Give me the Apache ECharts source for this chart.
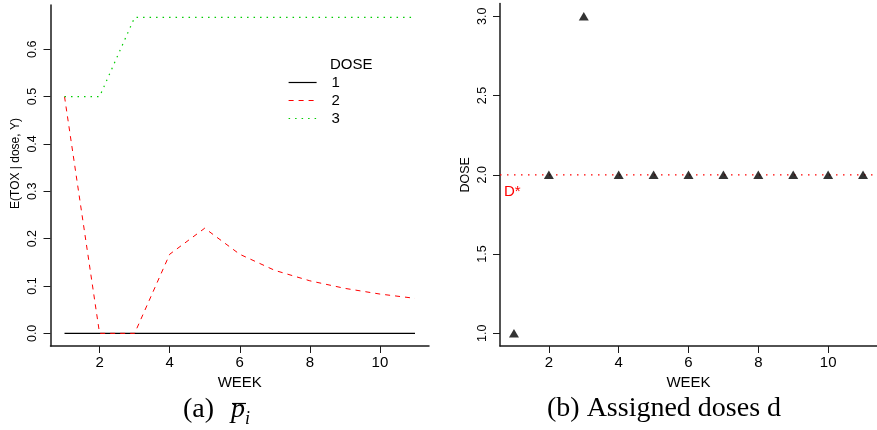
<!DOCTYPE html>
<html>
<head>
<meta charset="utf-8">
<script src="https://cdn.jsdelivr.net/npm/echarts@6/dist/echarts.min.js"></script>
<style>html,body{margin:0;padding:0;background:#fff}#c{width:877px;height:430px}</style>
</head>
<body>
<div id="c"></div>
<script>
// ---- data ----
var weeks = [1, 2, 3, 4, 5, 6, 7, 8, 9, 10, 11];
var dose1Tox = [0, 0, 0, 0, 0, 0, 0, 0, 0, 0, 0];
var dose2Tox = [0.5, 0, 0, 0.167, 0.222, 0.167, 0.133, 0.111, 0.095, 0.083, 0.074];
var dose3Tox = [0.5, 0.5, 0.667, 0.667, 0.667, 0.667, 0.667, 0.667, 0.667, 0.667, 0.667];
var assignedDose = [1, 2, 3, 2, 2, 2, 2, 2, 2, 2, 2];
var targetDose = 2;
var weekTicks = [2, 4, 6, 8, 10];
var toxTicks = [0, 0.1, 0.2, 0.3, 0.4, 0.5, 0.6];
var doseTicks = [1, 1.5, 2, 2.5, 3];
var doseNames = ['1', '2', '3'];

// axis extents (R-style 4% padding)
var WEEK_MIN = 0.6, WEEK_MAX = 11.4;

function pairs(xs, ys) { return xs.map(function (x, i) { return [x, ys[i]]; }); }

var SANS = 'Liberation Sans';
var axisLineStyle = { color: '#1a1a1a', width: 1.5 };
var RED = '#ff0000';

function xAxisFor(gridIndex) {
  return {
    gridIndex: gridIndex, type: 'value', min: WEEK_MIN, max: WEEK_MAX,
    name: 'WEEK', nameLocation: 'middle', nameGap: 24,
    nameTextStyle: { fontFamily: SANS, fontSize: 15, color: '#000' },
    axisLine: { show: true, onZero: false, lineStyle: axisLineStyle },
    axisTick: { show: true, length: 7, customValues: weekTicks, lineStyle: { color: '#1a1a1a' } },
    axisLabel: { customValues: weekTicks, margin: 9, fontFamily: SANS, fontSize: 15, color: '#000' },
    splitLine: { show: false }
  };
}

var option = {
  animation: false,
  backgroundColor: '#fff',
  title: {
    text: 'DOSE', left: 330, top: 57, padding: 0,
    textStyle: { fontFamily: SANS, fontSize: 15, fontWeight: 'normal', color: '#000' }
  },
  legend: {
    orient: 'vertical', left: 288, top: 75, padding: 0,
    itemWidth: 28, itemHeight: 14, itemGap: 3,
    data: doseNames,
    itemStyle: { color: 'rgba(0,0,0,0)', borderColor: 'rgba(0,0,0,0)', borderWidth: 0 },
    lineStyle: { width: 1.2 },
    textStyle: { fontFamily: SANS, fontSize: 15, color: '#000', padding: [0, 0, 0, 10] }
  },
  grid: [
    { left: 50.5, right: 448, top: 5, bottom: 84 },
    { left: 500, right: 0, top: 3.6, bottom: 84 }
  ],
  xAxis: [xAxisFor(0), xAxisFor(1)],
  yAxis: [
    {
      gridIndex: 0, type: 'value', min: -0.02667, max: 0.69333,
      name: 'E(TOX | dose, Y)', nameLocation: 'middle', nameGap: 29,
      nameTextStyle: { fontFamily: SANS, fontSize: 12, color: '#000', padding: [0, 0, 0, 24] },
      axisLine: { show: true, lineStyle: axisLineStyle },
      axisTick: { show: true, length: 7, customValues: toxTicks, lineStyle: { color: '#1a1a1a' } },
      axisLabel: { customValues: toxTicks, rotate: 90, margin: 11, fontFamily: SANS, fontSize: 12.5, color: '#000',
        formatter: function (v) { return v.toFixed(1); } },
      splitLine: { show: false }
    },
    {
      gridIndex: 1, type: 'value', min: 0.92, max: 3.08,
      name: 'DOSE', nameLocation: 'middle', nameGap: 28,
      nameTextStyle: { fontFamily: SANS, fontSize: 12.5, color: '#000' },
      axisLine: { show: true, lineStyle: axisLineStyle },
      axisTick: { show: true, length: 7, customValues: doseTicks, lineStyle: { color: '#1a1a1a' } },
      axisLabel: { customValues: doseTicks, rotate: 90, margin: 11, fontFamily: SANS, fontSize: 12.5, color: '#000',
        formatter: function (v) { return v.toFixed(1); } },
      splitLine: { show: false }
    }
  ],
  series: [
    {
      name: doseNames[0], type: 'line', xAxisIndex: 0, yAxisIndex: 0,
      data: pairs(weeks, dose1Tox), symbol: 'none', silent: true,
      lineStyle: { color: '#000', width: 1.3, type: 'solid' }, itemStyle: { color: '#000' }
    },
    {
      name: doseNames[1], type: 'line', xAxisIndex: 0, yAxisIndex: 0,
      data: pairs(weeks, dose2Tox), symbol: 'none', silent: true,
      lineStyle: { color: RED, width: 1, type: [5, 5] }, itemStyle: { color: RED }
    },
    {
      name: doseNames[2], type: 'line', xAxisIndex: 0, yAxisIndex: 0,
      data: pairs(weeks, dose3Tox), symbol: 'none', silent: true,
      lineStyle: { color: '#00cd00', width: 1.2, type: [1.5, 5] }, itemStyle: { color: '#00cd00' }
    },
    {
      name: 'target', type: 'line', xAxisIndex: 1, yAxisIndex: 1,
      data: pairs([WEEK_MIN, WEEK_MAX], [targetDose, targetDose]),
      symbol: 'none', silent: true, z: 1,
      itemStyle: { color: RED }, lineStyle: { color: RED, width: 1.3, type: [1.5, 5.5] },
      markLine: {
        silent: true, symbol: ['none', 'none'],
        lineStyle: { width: 0, color: 'rgba(0,0,0,0)' },
        label: { show: true, position: 'insideStartBottom', distance: [4, 10], formatter: 'D*',
          color: RED, fontFamily: SANS, fontSize: 15 },
        data: [{ yAxis: targetDose }]
      }
    },
    {
      name: 'assigned', type: 'scatter', xAxisIndex: 1, yAxisIndex: 1,
      data: pairs(weeks, assignedDose), symbol: 'triangle', symbolSize: [10, 8.5],
      itemStyle: { color: '#000' }, silent: true, z: 3
    }
  ],
  graphic: [
    { type: 'text', left: 183, top: 396, style: { text: '(a)', font: '28px "Liberation Serif"', fill: '#000' } },
    { type: 'text', left: 231, top: 396, style: { text: 'p', font: 'italic 28px "Liberation Serif"', fill: '#000' } },
    { type: 'line', shape: { x1: 232, y1: 403.5, x2: 246, y2: 403.5 }, style: { stroke: '#000', lineWidth: 1.2 } },
    { type: 'text', left: 245, top: 410, style: { text: 'i', font: 'italic 18px "Liberation Serif"', fill: '#000' } },
    { type: 'text', left: 547, top: 395, style: { text: '(b) Assigned doses d', font: '28px "Liberation Serif"', fill: '#000' } }
  ]
};

var chart = echarts.init(document.getElementById('c'), null, { renderer: 'canvas' });
chart.setOption(option);
</script>
</body>
</html>
